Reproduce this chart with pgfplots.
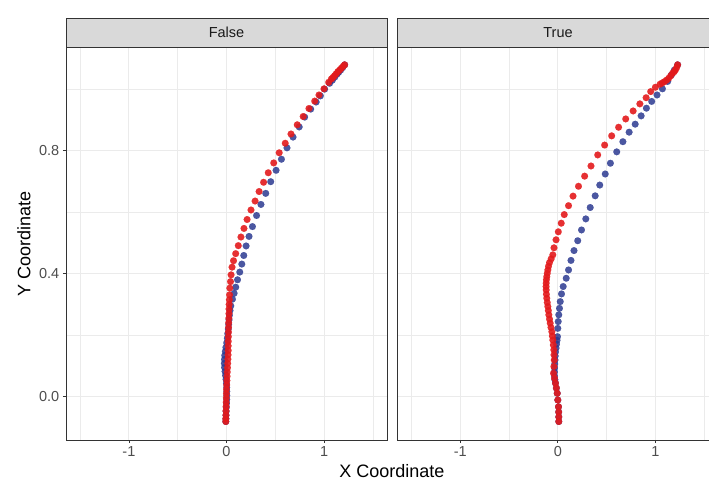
\documentclass[border=0pt]{standalone}
\usepackage{fontspec}
\setmainfont{Liberation Sans}
\usepackage{pgfplots}
\pgfplotsset{compat=1.18}
\definecolor{ptred}{HTML}{E31A1C}
\definecolor{ptblue}{HTML}{2B3990}
\definecolor{gridc}{HTML}{EBEBEB}
\definecolor{bord}{HTML}{333333}
\definecolor{ticklab}{HTML}{4D4D4D}
\definecolor{stripfill}{HTML}{D9D9D9}
\definecolor{striptext}{HTML}{1A1A1A}

\pgfplotstableread{
x y
1.211 1.079
1.195 1.074
1.177 1.068
1.160 1.062
1.142 1.057
1.125 1.050
1.108 1.044
1.091 1.038
1.075 1.033
1.047 1.022
0.999 1.001
0.948 0.981
0.904 0.961
0.845 0.937
0.786 0.911
0.725 0.884
0.661 0.854
0.602 0.824
0.540 0.793
0.484 0.760
0.428 0.728
0.380 0.697
0.334 0.667
0.293 0.636
0.251 0.607
0.211 0.576
0.179 0.547
0.148 0.519
0.121 0.491
0.094 0.465
0.072 0.442
0.057 0.421
0.047 0.396
0.041 0.374
0.034 0.353
0.031 0.331
0.029 0.315
0.027 0.300
0.026 0.285
0.025 0.270
0.024 0.255
0.022 0.240
0.021 0.225
0.020 0.210
0.019 0.195
0.018 0.180
0.017 0.165
0.017 0.150
0.016 0.136
0.014 0.122
0.012 0.108
0.010 0.094
0.008 0.080
0.006 0.066
0.004 0.052
0.002 0.038
0.000 0.024
-0.001 0.010
-0.002 -0.004
-0.003 -0.018
-0.004 -0.032
-0.005 -0.046
-0.006 -0.060
-0.007 -0.072
-0.007 -0.081
}\falsered

\pgfplotstableread{
x y
1.211 1.079
1.190 1.070
1.170 1.062
1.150 1.055
1.134 1.049
1.110 1.039
1.085 1.029
1.057 1.019
1.006 1.000
0.962 0.978
0.919 0.958
0.863 0.935
0.801 0.909
0.745 0.877
0.682 0.844
0.620 0.809
0.563 0.772
0.508 0.736
0.453 0.699
0.402 0.661
0.353 0.625
0.308 0.589
0.266 0.553
0.231 0.521
0.201 0.490
0.177 0.459
0.157 0.431
0.136 0.405
0.113 0.380
0.095 0.356
0.078 0.336
0.061 0.317
0.044 0.295
0.036 0.280
0.030 0.265
0.026 0.250
0.022 0.235
0.018 0.220
0.013 0.205
0.008 0.190
0.002 0.175
-0.006 0.160
-0.012 0.147
-0.018 0.134
-0.021 0.121
-0.022 0.108
-0.020 0.095
-0.015 0.082
-0.010 0.069
-0.005 0.056
-0.001 0.043
0.002 0.030
0.003 0.017
0.003 0.004
0.002 -0.009
0.000 -0.022
-0.002 -0.035
-0.004 -0.048
-0.005 -0.061
-0.006 -0.072
-0.007 -0.081
}\falseblue

\pgfplotstableread{
x y
1.228 1.079
1.218 1.070
1.206 1.063
1.194 1.057
1.177 1.052
1.157 1.043
1.136 1.035
1.114 1.029
1.092 1.024
1.070 1.020
1.048 1.016
1.000 1.006
0.952 0.992
0.905 0.972
0.841 0.952
0.772 0.929
0.696 0.903
0.623 0.876
0.552 0.848
0.480 0.818
0.409 0.786
0.340 0.750
0.275 0.717
0.212 0.684
0.156 0.652
0.110 0.621
0.066 0.592
0.035 0.564
0.005 0.536
-0.018 0.510
-0.039 0.484
-0.051 0.461
-0.068 0.448
-0.085 0.436
-0.095 0.424
-0.102 0.412
-0.108 0.401
-0.113 0.390
-0.117 0.380
-0.119 0.369
-0.120 0.358
-0.119 0.347
-0.117 0.333
-0.113 0.320
-0.108 0.306
-0.102 0.293
-0.097 0.280
-0.092 0.266
-0.085 0.252
-0.078 0.239
-0.070 0.225
-0.061 0.211
-0.056 0.197
-0.051 0.184
-0.046 0.168
-0.041 0.152
-0.039 0.136
-0.037 0.119
-0.040 0.098
-0.044 0.076
-0.034 0.060
-0.024 0.044
-0.015 0.028
-0.006 0.011
0.000 -0.011
0.007 -0.033
0.009 -0.050
0.010 -0.066
0.010 -0.081
}\truered

\pgfplotstableread{
x y
1.228 1.079
1.194 1.062
1.164 1.046
1.126 1.025
1.072 1.001
1.017 0.981
0.962 0.960
0.908 0.938
0.854 0.913
0.793 0.886
0.731 0.860
0.667 0.829
0.604 0.796
0.539 0.759
0.486 0.724
0.430 0.688
0.383 0.653
0.332 0.615
0.287 0.578
0.243 0.542
0.204 0.507
0.166 0.475
0.135 0.443
0.110 0.412
0.086 0.385
0.055 0.358
0.038 0.334
0.025 0.309
0.017 0.287
0.010 0.266
0.004 0.244
0.000 0.222
-0.003 0.195
-0.008 0.183
-0.013 0.171
-0.018 0.158
-0.024 0.145
-0.027 0.132
-0.029 0.119
-0.031 0.106
-0.033 0.093
-0.034 0.080
-0.034 0.067
-0.030 0.055
-0.024 0.044
-0.015 0.028
-0.006 0.011
0.000 -0.011
0.007 -0.033
0.009 -0.050
0.010 -0.066
0.010 -0.081
}\trueblue

\pgfplotsset{facet/.style={
  scale only axis, width=321bp, height=393bp,
  xmin=-1.645, xmax=1.645, ymin=-0.141, ymax=1.137,
  xtick={-1,0,1}, xticklabels={-1,0,1},
  ytick={0,0.4,0.8}, yticklabels={0.0,0.4,0.8},
  minor xtick={-1.5,-0.5,0.5,1.5}, minor ytick={-0.2,0.2,0.6,1.0},
  grid=both,
  major grid style={gridc, line width=0.9bp},
  minor grid style={gridc, line width=0.5bp},
  tick align=outside, major tick length=3.2bp, minor tick length=0pt,
  tick pos=left,
  tick style={bord, line width=0.8bp},
  axis line style={bord, line width=0.6bp},
  tick label style={font=\fontsize{14.5bp}{17bp}\selectfont, color=ticklab},
}}

\begin{document}
\begin{tikzpicture}[x=1bp,y=1bp]
\useasboundingbox (0,0) rectangle (709,482);
\clip (0,0) rectangle (709,482);

\begin{axis}[facet, at={(66bp,42bp)}, anchor=south west]
\addplot[only marks, mark=*, mark size=3.4bp, color=ptblue, draw opacity=0.85, fill opacity=0.85, mark options={solid, draw=ptblue, fill=ptblue, line width=0.1bp}] table[x=x,y=y] {\falseblue};
\addplot[only marks, mark=*, mark size=3.4bp, color=ptred, draw opacity=0.9, fill opacity=0.9, mark options={solid, draw=ptred, fill=ptred, line width=0.1bp}] table[x=x,y=y] {\falsered};
\end{axis}

\begin{axis}[facet, at={(397.3bp,42bp)}, anchor=south west,
  yticklabels={}, ytick style={draw=none}]
\addplot[only marks, mark=*, mark size=3.4bp, color=ptblue, draw opacity=0.85, fill opacity=0.85, mark options={solid, draw=ptblue, fill=ptblue, line width=0.1bp}] table[x=x,y=y] {\trueblue};
\addplot[only marks, mark=*, mark size=3.4bp, color=ptred, draw opacity=0.9, fill opacity=0.9, mark options={solid, draw=ptred, fill=ptred, line width=0.1bp}] table[x=x,y=y] {\truered};
\end{axis}

% facet strips
\draw[fill=stripfill, draw=bord, line width=0.6bp] (66,435) rectangle (387,464);
\node[font=\fontsize{14.5bp}{17bp}\selectfont, text=striptext] at (226.5,449.5) {False};
\draw[fill=stripfill, draw=bord, line width=0.6bp] (397.3,435) rectangle (718.6,464);
\node[font=\fontsize{14.5bp}{17bp}\selectfont, text=striptext] at (558,449.5) {True};

% axis titles
\node[font=\fontsize{18bp}{21bp}\selectfont] at (392,11) {X Coordinate};
\node[font=\fontsize{18bp}{21bp}\selectfont, rotate=90] at (24,238.5) {Y Coordinate};
\end{tikzpicture}
\end{document}
